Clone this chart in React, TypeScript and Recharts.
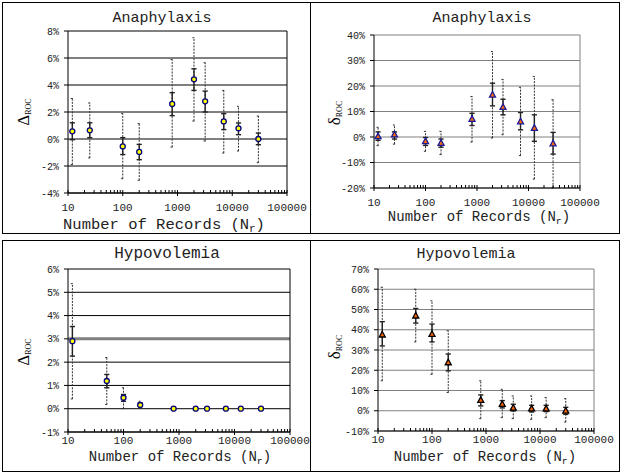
import { ComposedChart, Scatter, XAxis, YAxis, CartesianGrid, ErrorBar, ReferenceLine } from 'recharts';

// number of records (x positions)
const recordsTop = [12, 25, 100, 200, 800, 2000, 3200, 7000, 13000, 30000];
const recordsBottom = [12, 50, 100, 200, 800, 2000, 3200, 7000, 13000, 30000];

// Anaphylaxis, Delta ROC (%)
const anaDeltaMean = [0.57, 0.64, -0.55, -0.96, 2.6, 4.42, 2.79, 1.3, 0.79, 0.0];
const anaDeltaLo = [-0.05, 0.1, -1.15, -1.53, 1.73, 3.6, 2.0, 0.7, 0.32, -0.42];
const anaDeltaHi = [1.2, 1.2, 0.1, -0.4, 3.43, 5.2, 3.55, 1.88, 1.19, 0.44];
const anaDeltaMin = [-1.9, -1.4, -2.94, -3.06, -0.6, 1.33, -0.15, -1.04, -0.89, -1.75];
const anaDeltaMax = [3.0, 2.67, 1.88, 1.14, 5.88, 7.5, 5.65, 3.6, 2.42, 1.7];

// Anaphylaxis, delta ROC (%)
const anaRelMean = [0.2, 0.9, -1.7, -2.4, 7.0, 16.5, 11.7, 6.0, 3.5, -2.6];
const anaRelLo = [-1.3, -0.8, -3.3, -4.0, 4.5, 12.2, 8.7, 2.8, -1.7, -6.7];
const anaRelHi = [2.0, 2.0, -0.2, -0.8, 9.3, 21.1, 14.8, 9.6, 8.7, 1.8];
const anaRelMin = [-3.4, -2.8, -5.6, -6.9, -2.0, -0.4, 0.9, -7.3, -16.5, -20];
const anaRelMax = [3.8, 4.7, 2.2, 2.2, 15.9, 33.5, 22.6, 19.5, 23.7, 14.6];

// Hypovolemia, Delta ROC (%)
const hypoDeltaMean = [2.9, 1.19, 0.47, 0.16, 0, 0, 0, 0, 0, 0];
const hypoDeltaLo = [2.26, 0.9, 0.32, 0.1, 0, 0, 0, 0, 0, 0];
const hypoDeltaHi = [3.53, 1.47, 0.61, 0.24, 0, 0, 0, 0, 0, 0];
const hypoDeltaMin = [0.42, 0.18, 0.0, 0.05, 0, 0, 0, 0, 0, 0];
const hypoDeltaMax = [5.37, 2.2, 0.9, 0.32, 0, 0, 0, 0, 0, 0];

// Hypovolemia, delta ROC (%)
const hypoRelMean = [37.5, 46.9, 37.8, 23.8, 5.2, 3.2, 1.4, 1.0, 1.0, -0.1];
const hypoRelLo = [32, 43.3, 34, 19.7, 2.4, 1.4, -0.1, -0.6, -0.4, -1.8];
const hypoRelHi = [44, 50.5, 42.8, 28, 7.8, 5, 3.2, 2.7, 2.7, 1.7];
const hypoRelMin = [14.8, 34, 18, 9, -3.9, -3.4, -3.9, -4.2, -3.4, -5.6];
const hypoRelMax = [61, 60, 54.3, 39.5, 14.8, 10.6, 7.3, 7.3, 6.5, 6.0];

const majorTicks = [10, 100, 1000, 10000, 100000];
const logTicks: number[] = [];
majorTicks.slice(0, -1).forEach((m) => {
  for (let k = 1; k < 10; k++) logTicks.push(m * k);
});
logTicks.push(100000);

const ticksDeltaAna = [-4, -2, 0, 2, 4, 6, 8];
const ticksRelAna = [-20, -10, 0, 10, 20, 30, 40];
const ticksDeltaHypo = [-1, 0, 1, 2, 3, 4, 5, 6];
const ticksRelHypo = [-10, 0, 10, 20, 30, 40, 50, 60, 70];

interface Row {
  x: number;
  y: number;
  errInner: [number, number];
  errOuter: [number, number];
}

// error bars in recharts are offsets from the point value
const makeRows = (x: number[], y: number[], lo: number[], hi: number[], min: number[], max: number[]): Row[] =>
  x.map((v, i) => ({
    x: v,
    y: y[i],
    errInner: [y[i] - lo[i], hi[i] - y[i]],
    errOuter: [y[i] - min[i], max[i] - y[i]],
  }));

const MONO = '"Liberation Mono", "Courier New", monospace';
const SERIF = '"Liberation Serif", "Times New Roman", serif';

interface PanelProps {
  box: [number, number, number, number];
  plot: [number, number, number, number];
  title: string;
  titlePos: [number, number, number];
  sym: string;
  symPos: [number, number];
  xTitlePos: [number, number, number];
  tickDy: number;
  rows: Row[];
  domain: [number, number];
  yTicks: number[];
  grid: string;
  marker: 'circle' | 'triangle';
  fill: string;
  outline: string;
  band?: number;
}

function Panel(p: PanelProps) {
  const [bx, by, bw, bh] = p.box;
  const [pl, pt, pr, pb] = p.plot;

  const LogTick = ({ x, y, payload }: any) => {
    const major = majorTicks.includes(payload.value);
    return (
      <g>
        <line x1={x} x2={x} y1={y - 3} y2={major ? y + 3 : y} stroke="#000" strokeWidth={1} />
        {major && (
          <text x={x} y={y + p.tickDy} textAnchor="middle" fontFamily={MONO} fontSize={11} fill="#222">
            {payload.value}
          </text>
        )}
      </g>
    );
  };

  const Marker = ({ cx, cy }: any) =>
    p.marker === 'circle' ? (
      <circle cx={cx} cy={cy} r={2.5} fill={p.fill} stroke={p.outline} strokeWidth={1.3} />
    ) : (
      <polygon
        points={`${cx},${cy - 3.4} ${cx - 3},${cy + 2.2} ${cx + 3},${cy + 2.2}`}
        fill={p.fill}
        stroke={p.outline}
        strokeWidth={1.3}
      />
    );

  return (
    <div style={{ position: 'absolute', left: bx, top: by, width: bw, height: bh }}>
      <div
        style={{
          position: 'absolute',
          left: 0,
          top: 0,
          width: bw - 2,
          height: bh - 2,
          border: '1px solid #000',
        }}
      />
      <svg style={{ position: 'absolute', left: 0, top: 0 }} width={bw} height={bh}>
        <text
          x={p.titlePos[0] - bx}
          y={p.titlePos[1] - by}
          textAnchor="middle"
          fontFamily={MONO}
          fontSize={p.titlePos[2]}
          fill="#222"
        >
          {p.title}
        </text>
      </svg>
      <div style={{ position: 'absolute', left: 0, top: 0 }}>
        <ComposedChart
          width={bw}
          height={bh}
          data={p.rows}
          margin={{ top: pt - by, right: bx + bw - pr, left: 0, bottom: 0 }}
        >
          <CartesianGrid vertical={false} stroke={p.grid} strokeWidth={1} />
          {p.band !== undefined && <ReferenceLine y={p.band} stroke="#808080" strokeWidth={3} />}
          <ReferenceLine x={100000} stroke={p.grid} strokeWidth={1} />
          <XAxis
            dataKey="x"
            type="number"
            scale="log"
            domain={[10, 100000]}
            allowDataOverflow
            ticks={logTicks}
            interval={0}
            tickSize={0}
            tickMargin={0}
            tickLine={false}
            axisLine={{ stroke: '#000' }}
            height={by + bh - pb}
            tick={<LogTick />}
            label={{
              content: () => (
                <text
                  x={p.xTitlePos[0] - bx}
                  y={p.xTitlePos[1] - by}
                  textAnchor="middle"
                  fontFamily={MONO}
                  fontSize={p.xTitlePos[2]}
                  fill="#222"
                >
                  Number of Records (N
                  <tspan fontSize={p.xTitlePos[2] * 0.7} dy={3}>r</tspan>
                  <tspan dy={-3}>)</tspan>
                </text>
              ),
            }}
          />
          <YAxis
            type="number"
            domain={p.domain}
            allowDataOverflow
            ticks={p.yTicks}
            interval={0}
            width={pl - bx}
            tickSize={4}
            tickMargin={5}
            tickLine={{ stroke: '#000' }}
            axisLine={{ stroke: '#000' }}
            tickFormatter={(v: number) => `${v}%`}
            tick={{ fontFamily: MONO, fontSize: 10, fill: '#222' }}
            label={{
              content: () => (
                <text
                  transform={`translate(${p.symPos[0] - bx},${p.symPos[1] - by}) rotate(-90)`}
                  textAnchor="middle"
                  fontFamily={SERIF}
                  fill="#000"
                >
                  <tspan fontSize={17}>{p.sym}</tspan>
                  <tspan fontSize={8} dy={2}>ROC</tspan>
                </text>
              ),
            }}
          />
          <Scatter dataKey="y" isAnimationActive={false} shape={<Marker />}>
            <ErrorBar
              dataKey="errOuter"
              direction="y"
              width={1.6}
              stroke="#333"
              strokeWidth={1}
              strokeDasharray="2 1.2"
            />
            <ErrorBar dataKey="errInner" direction="y" width={2.6} stroke="#222" strokeWidth={1.4} />
          </Scatter>
        </ComposedChart>
      </div>
    </div>
  );
}

export default function App() {
  return (
    <div style={{ position: 'absolute', left: 0, top: 0, width: 621, height: 472, background: '#fff' }}>
      <Panel
        box={[2, 2, 309, 232]}
        plot={[68, 31, 287, 193]}
        title="Anaphylaxis"
        titlePos={[162, 22, 15]}
        sym="Δ"
        symPos={[29, 112]}
        xTitlePos={[164, 228.5, 15.5]}
        tickDy={18}
        rows={makeRows(recordsTop, anaDeltaMean, anaDeltaLo, anaDeltaHi, anaDeltaMin, anaDeltaMax)}
        domain={[-4, 8]}
        yTicks={ticksDeltaAna}
        grid="#000"
        marker="circle"
        fill="#ffff00"
        outline="#000080"
      />
      <Panel
        box={[310, 2, 310, 232]}
        plot={[374, 35, 580, 188]}
        title="Anaphylaxis"
        titlePos={[482, 22, 15]}
        sym="δ"
        symPos={[340, 113]}
        xTitlePos={[479, 221, 14]}
        tickDy={18}
        rows={makeRows(recordsTop, anaRelMean, anaRelLo, anaRelHi, anaRelMin, anaRelMax)}
        domain={[-20, 40]}
        yTicks={ticksRelAna}
        grid="#808080"
        marker="triangle"
        fill="#ff6a00"
        outline="#1a1a9a"
      />
      <Panel
        box={[2, 240, 309, 232]}
        plot={[68, 269, 290, 432]}
        title="Hypovolemia"
        titlePos={[167, 258, 16]}
        sym="Δ"
        symPos={[29, 352]}
        xTitlePos={[180, 461, 14]}
        tickDy={12}
        rows={makeRows(recordsBottom, hypoDeltaMean, hypoDeltaLo, hypoDeltaHi, hypoDeltaMin, hypoDeltaMax)}
        domain={[-1, 6]}
        yTicks={ticksDeltaHypo}
        grid="#000"
        marker="circle"
        fill="#ffff00"
        outline="#000080"
        band={3}
      />
      <Panel
        box={[310, 240, 310, 232]}
        plot={[378, 269, 594, 431]}
        title="Hypovolemia"
        titlePos={[466, 258, 15]}
        sym="δ"
        symPos={[340, 347]}
        xTitlePos={[485, 461, 14]}
        tickDy={12}
        rows={makeRows(recordsBottom, hypoRelMean, hypoRelLo, hypoRelHi, hypoRelMin, hypoRelMax)}
        domain={[-10, 70]}
        yTicks={ticksRelHypo}
        grid="#808080"
        marker="triangle"
        fill="#ff6600"
        outline="#000"
      />
    </div>
  );
}
